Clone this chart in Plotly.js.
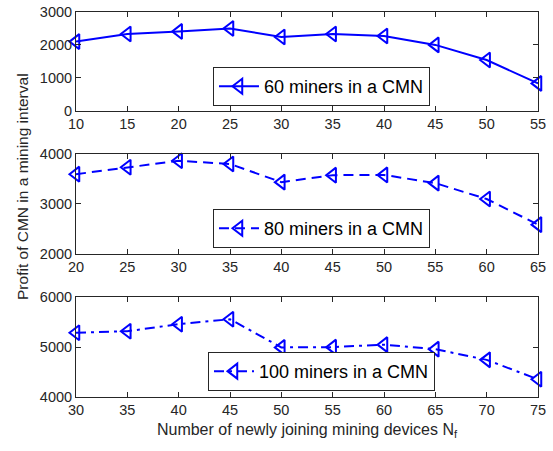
<!DOCTYPE html>
<html>
<head>
<meta charset="utf-8">
<script src="https://cdn.plot.ly/plotly-3.0.1.min.js"></script>
<style>html,body{margin:0;padding:0;background:#fff;}#chart{width:553px;height:451px;}</style>
</head>
<body>
<div id="chart"></div>
<script>
// Data
const x60 = [10, 15, 20, 25, 30, 35, 40, 45, 50, 55];
const profit60 = [2100, 2330, 2410, 2500, 2240, 2330, 2270, 2000, 1540, 830];
const x80 = [20, 25, 30, 35, 40, 45, 50, 55, 60, 65];
const profit80 = [3600, 3740, 3870, 3805, 3440, 3580, 3585, 3420, 3100, 2585];
const x100 = [30, 35, 40, 45, 50, 55, 60, 65, 70, 75];
const profit100 = [5290, 5320, 5460, 5560, 4995, 5000, 5050, 4960, 4745, 4355];
const names = ["60 miners in a CMN", "80 miners in a CMN", "100 miners in a CMN"];
const xTitle = "Number of newly joining mining devices N<sub>f</sub>";
const yTitle = "Profit of CMN in a mining interval";

const FONT = "Liberation Sans, Arial, Helvetica, sans-serif";
const TXT = "#262626";
const BLUE = "#0000ff";

function trace(x, y, name, xa, ya, dash, leg) {
  return {
    x: x, y: y, name: name, xaxis: xa, yaxis: ya, legend: leg,
    type: "scatter", mode: "lines+markers", cliponaxis: false,
    line: {color: BLUE, width: 2, dash: dash},
    marker: {symbol: "triangle-left-open", size: 13, color: BLUE, line: {width: 2, color: BLUE}}
  };
}

const data = [
  trace(x60, profit60, names[0], "x", "y", "solid", "legend"),
  trace(x80, profit80, names[1], "x2", "y2", "10px,6px", "legend2"),
  trace(x100, profit100, names[2], "x3", "y3", "10px,5px,3px,5px", "legend3")
];

function xax(rng, anchor, extra) {
  return Object.assign({
    range: rng, dtick: 5, anchor: anchor, ticks: "inside", ticklen: 5, tickcolor: TXT,
    showline: true, linecolor: TXT, linewidth: 1, mirror: "ticks", showgrid: false, zeroline: false,
    tickfont: {family: FONT, size: 14.5, color: TXT}
  }, extra || {});
}
function yax(rng, dom, anchor) {
  return {
    range: rng, dtick: 1000, domain: dom, anchor: anchor, ticks: "inside", ticklen: 5, tickcolor: TXT,
    showline: true, linecolor: TXT, linewidth: 1, mirror: "ticks", showgrid: false, zeroline: false,
    tickfont: {family: FONT, size: 14.5, color: TXT}
  };
}
function leg(x, y) {
  return {
    x: x, y: y, xanchor: "left", yanchor: "top", bgcolor: "#fff",
    bordercolor: TXT, borderwidth: 1, font: {family: FONT, size: 18, color: "#000"},
    itemwidth: 40, tracegroupgap: 0
  };
}

const layout = {
  width: 553, height: 451,
  margin: {l: 76, r: 15, t: 12, b: 54},
  paper_bgcolor: "#fff", plot_bgcolor: "#fff",
  font: {family: FONT, color: TXT},
  showlegend: true,
  xaxis: xax([10, 55], "y"),
  yaxis: yax([0, 3000], [0.7436, 1.0], "x"),
  xaxis2: xax([20, 65], "y2"),
  yaxis2: yax([2000, 4000], [0.3722, 0.6304], "x2"),
  xaxis3: xax([30, 75], "y3", {title: {text: xTitle, font: {family: FONT, size: 16, color: TXT}, standoff: 6}}),
  yaxis3: yax([4000, 6000], [0, 0.259], "x3"),
  legend: leg(0.2965, 0.857),
  legend2: leg(0.2965, 0.488),
  legend3: leg(0.2857, 0.117),
  annotations: [{
    text: yTitle, xref: "paper", yref: "paper", x: -0.117, y: 0.548,
    xanchor: "center", yanchor: "middle", textangle: -90, showarrow: false,
    font: {family: FONT, size: 15.5, color: TXT}
  }]
};

Plotly.newPlot("chart", data, layout, {displayModeBar: false, staticPlot: true});
</script>
</body>
</html>
